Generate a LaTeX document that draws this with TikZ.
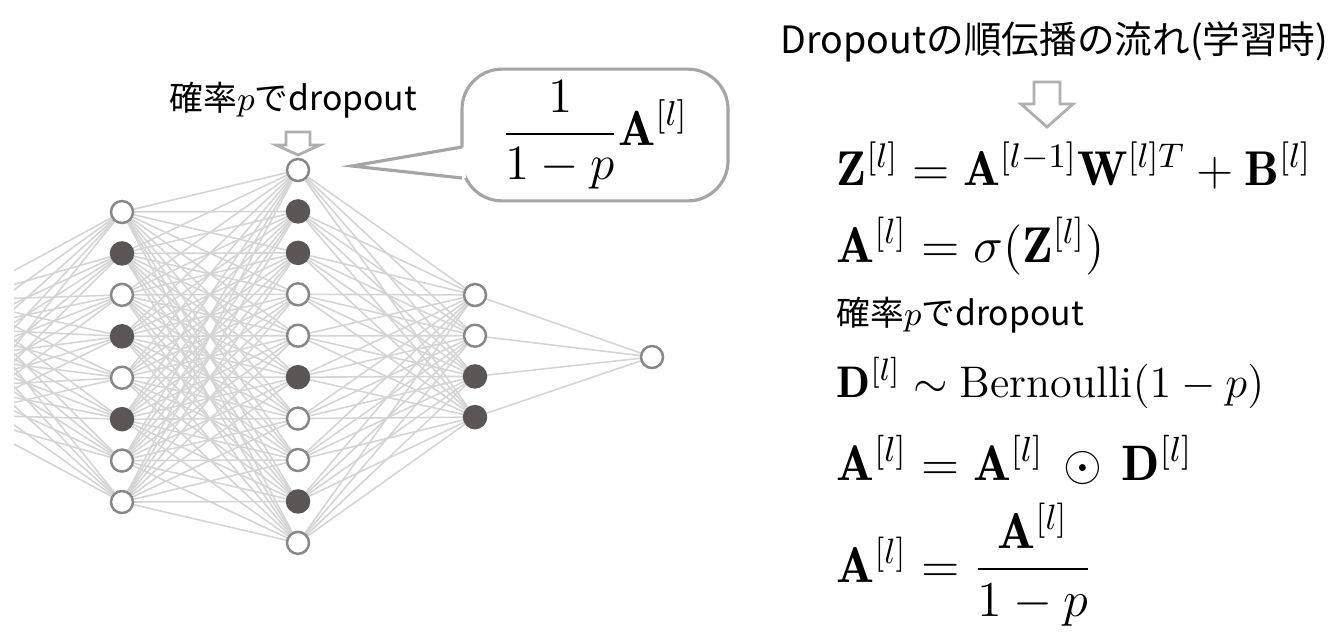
\RequirePackage{fix-cm}
\documentclass[tikz,border=0pt]{standalone}
\usepackage{amsmath,amssymb}
\usepackage{fontspec}
\usepackage{tikz}
\usetikzlibrary{positioning,backgrounds,calc}
\newfontfamily\jpfont{Noto Sans CJK JP}
\definecolor{unitrule}{RGB}{135,135,135}
\definecolor{dropfill}{RGB}{90,86,86}
\definecolor{linkgray}{RGB}{212,212,212}
\definecolor{boxrule}{RGB}{165,165,165}
\definecolor{arrowrule}{RGB}{175,175,175}
\tikzset{
  unit/.style={circle,draw=unitrule,line width=0.7pt,fill=white,minimum size=2.2mm,inner sep=0pt},
  dropunit/.style={unit,draw=dropfill,fill=dropfill},
  link/.style={draw=linkgray,line width=0.45pt},
  hollow/.style={draw=arrowrule,line width=0.8pt,fill=white,line join=miter},
  callout/.style={draw=boxrule,line width=0.9pt,fill=white,rounded corners=4mm,minimum width=2.66cm,minimum height=1.26cm,font=\fontsize{14}{17}\selectfont},
  eqn/.style={anchor=base west,inner sep=0pt,font=\fontsize{14}{17}\selectfont},
  jplabel/.style={inner sep=0pt,font=\fontsize{9.6}{12}\selectfont\jpfont},
  jptitle/.style={inner sep=0pt,anchor=base,font=\fontsize{10.7}{13}\selectfont\jpfont}
}

\begin{document}
\begin{tikzpicture}
  \useasboundingbox (0,0) rectangle (13.31,6.40);
  \foreach \s [count=\i] in {unit,dropunit,unit,dropunit,unit,dropunit,unit,unit}
    \node[\s] (h1-\i) at (1.22,{4.28-0.4143*(\i-1)}) {};
  \foreach \s [count=\i] in {unit,dropunit,dropunit,unit,unit,dropunit,unit,unit,dropunit,unit}
    \node[\s] (h2-\i) at (2.98,{4.70-0.4143*(\i-1)}) {};
  \foreach \s [count=\i] in {unit,unit,dropunit,dropunit}
    \node[\s] (h3-\i) at (4.75,{3.45-0.407*(\i-1)}) {};
  \node[unit] (out) at (6.52,2.83) {};
  \foreach \i in {1,...,5}
    \coordinate (in-\i) at (-0.40,{3.40-0.2875*(\i-1)});

  \begin{scope}[on background layer]
    \clip (0.14,0) rectangle (13.31,6.40);
    \foreach \i in {1,...,5}
      \foreach \j in {1,...,8}
        \draw[link] (in-\i) -- (h1-\j);
    \foreach \i in {1,...,8}
      \foreach \j in {1,...,10}
        \draw[link] (h1-\i) -- (h2-\j);
    \foreach \i in {1,...,10}
      \foreach \j in {1,...,4}
        \draw[link] (h2-\i) -- (h3-\j);
    \foreach \j in {1,...,4}
      \draw[link] (h3-\j) -- (out);
  \end{scope}

  \node[jplabel,anchor=base] (droplabel) at (2.935,5.30) {確率$p$でdropout};
  \draw[hollow] (2.86,5.08) -- (3.10,5.08) -- (3.10,4.95) -- (3.20,4.95) -- (2.98,4.85)
    -- (2.76,4.95) -- (2.86,4.95) -- cycle;

  \node[callout] (scale) at (5.95,5.05) {\raisebox{-0.6mm}{$\displaystyle\frac{1}{1-p}\mathbf{A}^{[l]}$}};
  \fill[white] (4.66,4.93) -- (3.52,4.74) -- (4.66,4.62) -- cycle;
  \draw[boxrule,line width=0.9pt,line join=miter] (4.62,4.93) -- (3.52,4.74) -- (4.62,4.62);

  \node[jptitle] (title) at (10.545,5.87) {Dropoutの順伝播の流れ(学習時)};
  \draw[hollow] (10.34,5.58) -- (10.60,5.58) -- (10.60,5.36) -- (10.73,5.36) -- (10.47,5.13)
    -- (10.21,5.36) -- (10.34,5.36) -- cycle;

  \node[eqn,font=\fontsize{13.9}{17}\selectfont] (zeq) at (8.36,4.55) {$\mathbf{Z}^{[l]} = \mathbf{A}^{[l-1]}\mathbf{W}^{[l]T} + \mathbf{B}^{[l]}$};
  \node[eqn,font=\fontsize{14.3}{17}\selectfont] (aeq) at (8.36,3.78) {$\mathbf{A}^{[l]} = \sigma(\mathbf{Z}^{[l]})$};
  \node[jplabel,anchor=base west] (droptxt) at (8.36,3.15) {確率$p$でdropout};
  \node[eqn,font=\fontsize{12.6}{15}\selectfont] (deq) at (8.36,2.43) {$\mathbf{D}^{[l]} \sim \mathrm{Bernoulli}(1-p)$};
  \node[eqn,font=\fontsize{14.2}{17}\selectfont] (meq) at (8.36,1.60) {$\mathbf{A}^{[l]} = \mathbf{A}^{[l]} \,\odot\, \mathbf{D}^{[l]}$};
  \node[eqn,font=\fontsize{14.3}{17}\selectfont] (seq) at (8.36,0.58) {$\mathbf{A}^{[l]} = \dfrac{\mathbf{A}^{[l]}}{1-p}$};
\end{tikzpicture}
\end{document}
